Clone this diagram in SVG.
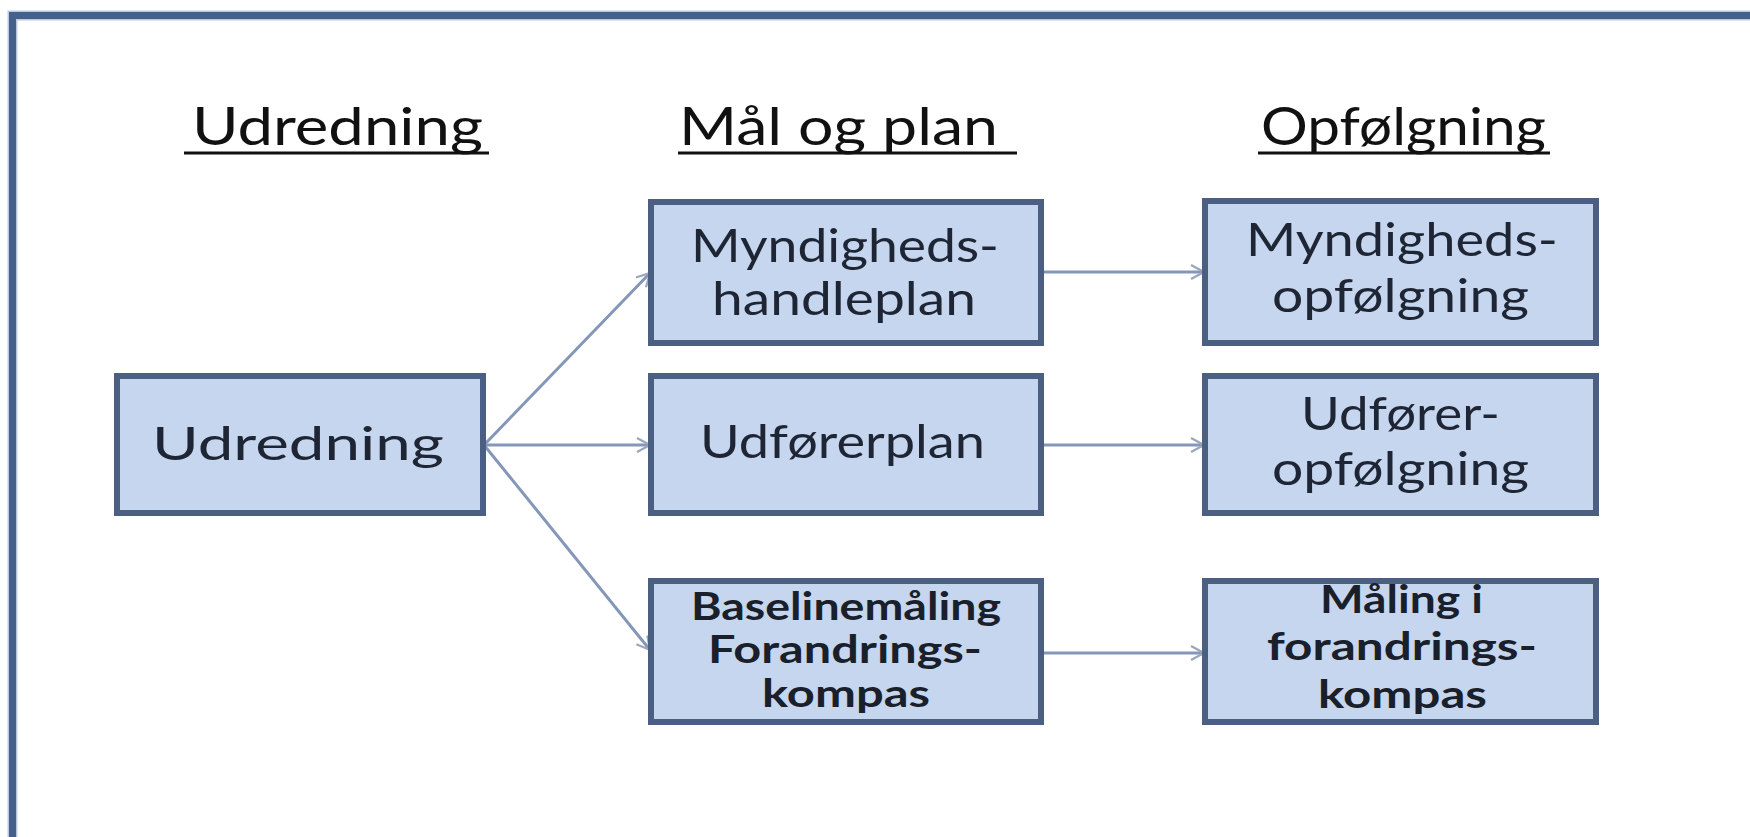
<svg xmlns="http://www.w3.org/2000/svg" width="1750" height="837" viewBox="0 0 1750 837">
  <defs>
    <style>
      .hdr { font-family: Lato, "Open Sans", "Liberation Sans", sans-serif; font-size: 52px; fill: #111; }
      .ul { stroke: #111; stroke-width: 3; }
      .box { fill: #c6d6ee; stroke: #4b5f83; stroke-width: 6; }
      .t { font-family: Lato, "Open Sans", "Liberation Sans", sans-serif; font-size: 47px; fill: #1e2535; }
      .ts { font-family: Lato, "Open Sans", "Liberation Sans", sans-serif; font-size: 39px; font-weight: 700; fill: #1a1f2c; }
      .conn { stroke: #8597b8; stroke-width: 3; fill: none; marker-end: url(#arr); }
    </style>
    <marker id="arr" viewBox="0 0 16 16" refX="15" refY="8" markerWidth="16" markerHeight="16" markerUnits="userSpaceOnUse" orient="auto">
      <path d="M2,1 L15,8 L2,15" fill="none" stroke="#9aa6bb" stroke-width="2.2"/>
    </marker>
  </defs>

  <rect x="0" y="0" width="1750" height="837" fill="#ffffff"/>
  <path d="M12.5,837 V15.5 H1750" fill="none" stroke="#b9c9e2" stroke-width="10"/>
  <path d="M12.5,837 V15.5 H1750" fill="none" stroke="#46608c" stroke-width="7"/>

  <g id="headers">
    <text class="hdr" x="192" y="145" textLength="291" lengthAdjust="spacingAndGlyphs">Udredning</text>
    <line class="ul" x1="184" y1="153" x2="489" y2="153"/>
    <text class="hdr" x="679" y="145" textLength="319" lengthAdjust="spacingAndGlyphs">Mål og plan</text>
    <line class="ul" x1="678" y1="153" x2="1017" y2="153"/>
    <text class="hdr" x="1261" y="145" textLength="285" lengthAdjust="spacingAndGlyphs">Opfølgning</text>
    <line class="ul" x1="1258" y1="153" x2="1550" y2="153"/>
  </g>

  <g id="connectors">
    <line class="conn" x1="484" y1="445" x2="650" y2="273"/>
    <line class="conn" x1="484" y1="445" x2="650" y2="445"/>
    <line class="conn" x1="484" y1="445" x2="650" y2="650"/>
    <line class="conn" x1="1042" y1="272" x2="1204" y2="272"/>
    <line class="conn" x1="1042" y1="445" x2="1204" y2="445"/>
    <line class="conn" x1="1042" y1="653" x2="1204" y2="653"/>
  </g>

  <g id="n-udredning">
    <rect class="box" x="117" y="376" width="366" height="137"/>
    <text class="t" x="152" y="460" textLength="292" lengthAdjust="spacingAndGlyphs">Udredning</text>
  </g>

  <g id="n-myndigheds-handleplan">
    <rect class="box" x="651" y="202" width="390" height="141"/>
    <text class="t" x="691" y="262" textLength="308" lengthAdjust="spacingAndGlyphs">Myndigheds-</text>
    <text class="t" x="712" y="315" textLength="264" lengthAdjust="spacingAndGlyphs">handleplan</text>
  </g>

  <g id="n-udfoererplan">
    <rect class="box" x="651" y="376" width="390" height="137"/>
    <text class="t" x="700" y="458" textLength="285" lengthAdjust="spacingAndGlyphs">Udførerplan</text>
  </g>

  <g id="n-baselinemaaling">
    <rect class="box" x="651" y="581" width="390" height="141"/>
    <text class="ts" x="691" y="620" textLength="310" lengthAdjust="spacingAndGlyphs">Baselinemåling</text>
    <text class="ts" x="708" y="663" textLength="274" lengthAdjust="spacingAndGlyphs">Forandrings-</text>
    <text class="ts" x="762" y="707" textLength="168" lengthAdjust="spacingAndGlyphs">kompas</text>
  </g>

  <g id="n-myndigheds-opfoelgning">
    <rect class="box" x="1205" y="201" width="391" height="142"/>
    <text class="t" x="1246" y="256" textLength="312" lengthAdjust="spacingAndGlyphs">Myndigheds-</text>
    <text class="t" x="1272" y="312" textLength="257" lengthAdjust="spacingAndGlyphs">opfølgning</text>
  </g>

  <g id="n-udfoerer-opfoelgning">
    <rect class="box" x="1205" y="376" width="391" height="137"/>
    <text class="t" x="1301" y="430" textLength="199" lengthAdjust="spacingAndGlyphs">Udfører-</text>
    <text class="t" x="1272" y="485" textLength="257" lengthAdjust="spacingAndGlyphs">opfølgning</text>
  </g>

  <g id="n-maaling-forandringskompas">
    <rect class="box" x="1205" y="581" width="391" height="141"/>
    <text class="ts" x="1320" y="613" textLength="163" lengthAdjust="spacingAndGlyphs">Måling i</text>
    <text class="ts" x="1267" y="660" textLength="270" lengthAdjust="spacingAndGlyphs">forandrings-</text>
    <text class="ts" x="1318" y="708" textLength="169" lengthAdjust="spacingAndGlyphs">kompas</text>
  </g>
</svg>
